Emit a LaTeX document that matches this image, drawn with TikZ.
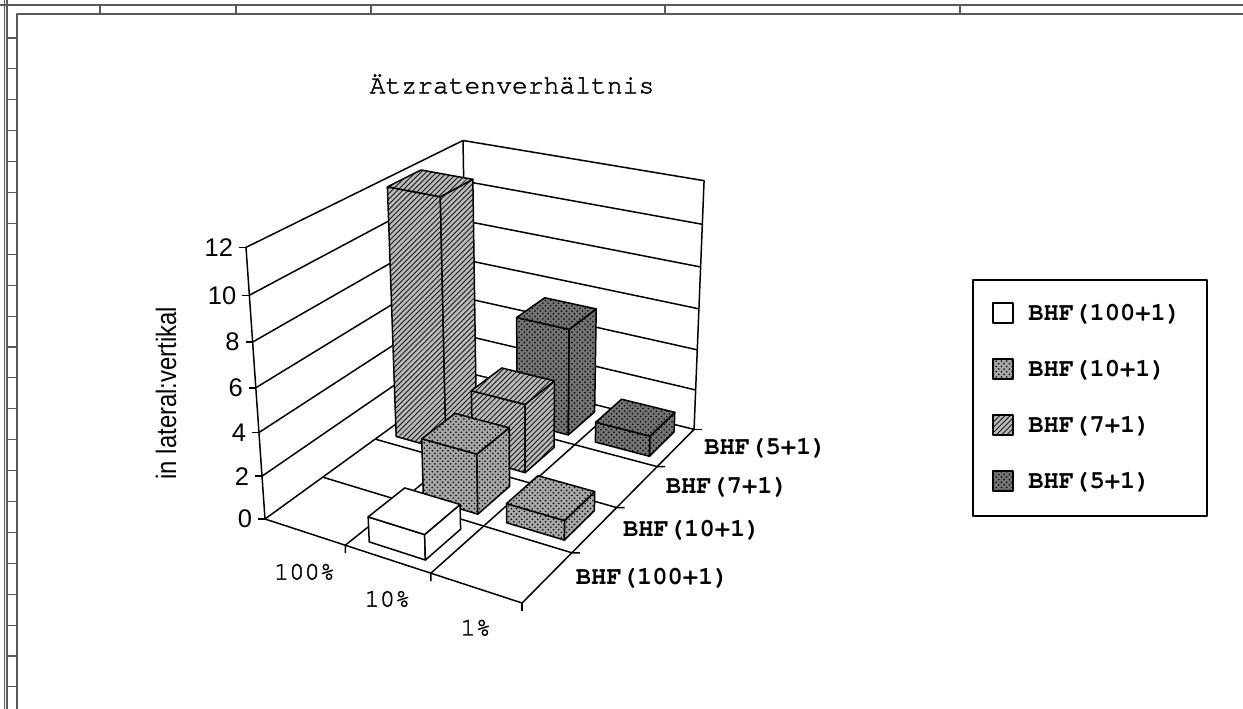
\documentclass[tikz,border=0pt]{standalone}
\usepackage{fontspec}
\setmainfont{Liberation Serif}
\newfontfamily\courierfont[FakeBold=1.6]{TeX Gyre Cursor}
\newfontfamily\courierbf{TeX Gyre Cursor}
\newfontfamily\arialfont{Liberation Sans}
\newfontfamily\narrowfont[FakeStretch=0.85]{Liberation Sans}
\usetikzlibrary{patterns}

% chart point: u = category, v = series, w = value (perspective)
\newcommand{\cpt}[4]{%
  \pgfmathsetmacro{\chD}{1-0.0303*(#2)+0.05018*(#3)-0.005477*(#4)}%
  \pgfmathsetmacro{\chX}{(265+69.87*(#2)+73.92*(#3)-2.930*(#4))/\chD}%
  \pgfmathsetmacro{\chY}{(519+9.726*(#2)-17.91*(#3)-23.99*(#4))/\chD}%
  \coordinate (#1) at (\chX,\chY);}

% one column: u, v, height, style
\newcommand{\chartcol}[4]{%
  \cpt{bfl}{#1+0.17}{#2+0.17}{0}
  \cpt{bfr}{#1+0.83}{#2+0.17}{0}
  \cpt{bbr}{#1+0.83}{#2+0.83}{0}
  \cpt{tfl}{#1+0.17}{#2+0.17}{#3}
  \cpt{tfr}{#1+0.83}{#2+0.17}{#3}
  \cpt{tbr}{#1+0.83}{#2+0.83}{#3}
  \cpt{tbl}{#1+0.17}{#2+0.83}{#3}
  \draw[#4] (bfl) -- (bfr) -- (tfr) -- (tfl) -- cycle;
  \draw[#4] (bfr) -- (bbr) -- (tbr) -- (tfr) -- cycle;
  \draw[#4] (tfl) -- (tfr) -- (tbr) -- (tbl) -- cycle;}

\begin{document}
\begin{tikzpicture}[x=0.02cm, y=-0.02cm, line join=round,
  wall/.style={line width=0.85pt},
  frame/.style={black!65, line width=0.6pt},
  s100/.style={wall, fill=white},
  s10/.style={wall, preaction={fill=black!35}, pattern=crosshatch dots},
  s7/.style={wall, preaction={fill=black!28}, pattern=north east lines},
  s5/.style={wall, preaction={fill=black!55}, pattern=crosshatch dots},
  mono/.style={font=\courierfont\fontsize{14.5}{17}\selectfont, inner sep=0pt},
  bhf/.style={font=\courierbf\bfseries\fontsize{14.5}{17}\selectfont, inner sep=0pt},
  num/.style={font=\arialfont\fontsize{14.5}{17}\selectfont, inner sep=0pt}]
\useasboundingbox (0,0) rectangle (1243,709);

% page frame
\draw[frame] (0,5) -- (1243,5);
\draw[frame, line width=1.2pt] (17,709) -- (17,14) -- (1243,14);
\draw[frame] (4.5,0) -- (4.5,709);
\draw[frame] (7,0) -- (7,709);
\foreach \x in {100,236,371,665,960} \draw[frame] (\x,5) -- (\x,14);
\foreach \k in {0,...,21} \draw[frame] (7,{38+30.9*\k}) -- (17,{38+30.9*\k});

% title
\node[font=\courierfont\fontsize{15}{18}\selectfont] (title) at (512,84) {Ätzratenverhältnis};

% walls
\cpt{o}{0}{0}{0}
\cpt{ot}{0}{0}{12}
\cpt{bk}{0}{4}{0}
\cpt{bkt}{0}{4}{12}
\cpt{rt}{3}{4}{0}
\cpt{rtt}{3}{4}{12}
\cpt{fr}{3}{0}{0}
\draw[wall] (o) -- (ot) -- (bkt) -- (rtt) -- (rt) -- (bk) -- cycle;
\draw[wall] (bk) -- (bkt);
\draw[wall] (o) -- (fr) -- (rt);
\foreach \w in {2,4,...,10} {
  \cpt{ga}{0}{0}{\w}
  \cpt{gb}{0}{4}{\w}
  \cpt{gc}{3}{4}{\w}
  \draw[wall] (ga) -- (gb) -- (gc);
}
\foreach \w in {0,2,...,12} {
  \cpt{tk}{0}{0}{\w}
  \draw[wall] (tk) -- ++(-7,0) node[num, left, xshift=-3pt] (val\w) {\w};
}

% floor
\foreach \v in {1,2,3} {
  \cpt{fa}{0}{\v}{0}
  \cpt{fb}{3}{\v}{0}
  \draw[wall] (fa) -- (fb) -- ++(8,0);
}
\draw[wall] (rt) -- ++(8,0);
\foreach \u in {1,2} {
  \cpt{fa}{\u}{4}{0}
  \cpt{fb}{\u}{0}{0}
  \draw[wall] (fa) -- (fb) -- ++(0,8);
}
\draw[wall] (fr) -- ++(0,8);

% axis labels
\foreach \u/\t [count=\i] in {0.5/100\%, 1.5/10\%, 2.5/1\%} {
  \cpt{cl}{\u}{0}{0}
  \path (cl) ++(0,40) node[mono] (cat\i) {\t};
}
\foreach \v/\t [count=\i] in {0.5/BHF(100+1), 1.5/BHF(10+1), 2.5/BHF(7+1), 3.5/BHF(5+1)} {
  \cpt{sl}{3}{\v}{0}
  \path (sl) ++(28,1) node[bhf, anchor=west] (ser\i) {\t};
}
\node[rotate=90, font=\narrowfont\fontsize{16}{19}\selectfont] (ytitle) at (166,393) {in lateral:vertikal};

% columns, back to front
\chartcol{1}{3}{5.25}{s5}
\chartcol{2}{3}{1.0}{s5}
\chartcol{0}{2}{12}{s7}
\chartcol{1}{2}{3.3}{s7}
\chartcol{1}{1}{2.8}{s10}
\chartcol{2}{1}{0.9}{s10}
\chartcol{1}{0}{1.15}{s100}

% legend
\draw[wall] (973,280) rectangle (1207,516);
\draw[s100] (993,303) rectangle (1013,323);
\node[bhf, anchor=west] (leg1) at (1028,314) {BHF(100+1)};
\draw[s10] (993,359) rectangle (1013,379);
\node[bhf, anchor=west] (leg2) at (1028,370) {BHF(10+1)};
\draw[s7] (993,415) rectangle (1013,435);
\node[bhf, anchor=west] (leg3) at (1028,426) {BHF(7+1)};
\draw[s5] (993,471) rectangle (1013,491);
\node[bhf, anchor=west] (leg4) at (1028,482) {BHF(5+1)};
\end{tikzpicture}
\end{document}
